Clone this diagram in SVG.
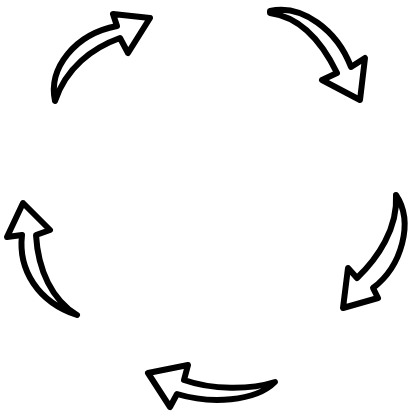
<svg xmlns="http://www.w3.org/2000/svg" width="419" height="417" viewBox="0 0 419 417">
<style>
.arrow{fill:#fff;stroke:#000;stroke-width:6;stroke-linejoin:round;stroke-linecap:round}
</style>
<rect width="419" height="417" fill="#fff"/>
<g id="connectors">
<g id="arrow-top-left"><path class="arrow" d="M55,101 C48,68 75,34 117,26 L113,14 L150,18 L128,53 L120,38 C92,48 66,68 55,101 Z"/></g>
<g id="arrow-top-right"><path class="arrow" d="M270,11 C302,4 337,30 351,67 L365,58 L360,100 L322,80 L337,73 C322,42 300,17 270,13 Z"/></g>
<g id="arrow-right"><path class="arrow" d="M396,195 C414,222 402,266 373,288 L378,298 L343,308 L348,268 L357,278 C378,258 398,228 396,195 Z"/></g>
<g id="arrow-bottom"><path class="arrow" d="M275,382 C255,402 210,404 177,394 L170,407 L148,373 L188,365 L184,380 C212,390 250,390 275,382 Z"/></g>
<g id="arrow-left"><path class="arrow" d="M77,315 C38,302 18,270 22,235 L7,237 L23,203 L50,230 L36,235 C38,270 52,300 77,315 Z"/></g>
</g>
</svg>
